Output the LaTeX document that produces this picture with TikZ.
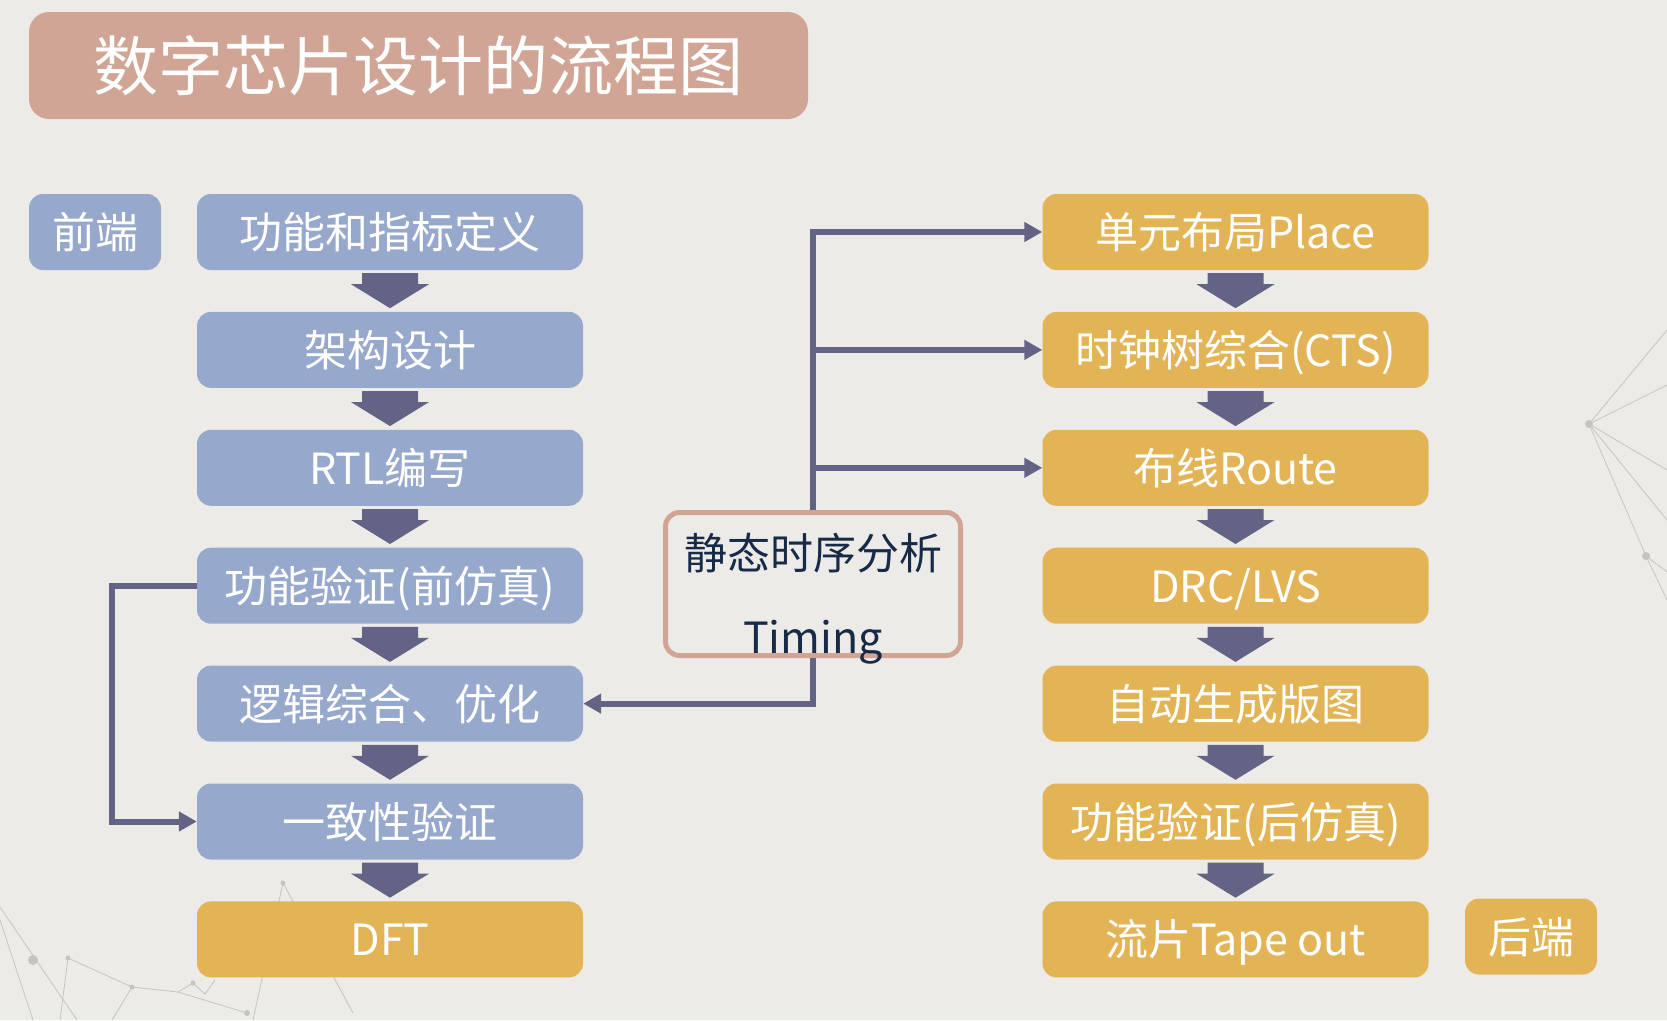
\documentclass[tikz,border=0pt]{standalone}
\usepackage{fontspec}
\setmainfont{Noto Sans CJK SC}
\usetikzlibrary{arrows.meta,positioning}

\definecolor{paper}{HTML}{EDEBE7}
\definecolor{thread}{HTML}{C6C4C0}
\definecolor{frontblue}{HTML}{97A8CD}
\definecolor{backgold}{HTML}{E3B455}
\definecolor{flowpurple}{HTML}{636385}
\definecolor{titlerose}{HTML}{D1A595}
\definecolor{navytext}{HTML}{172B49}

\begin{document}
\begin{tikzpicture}[x=1pt, y=1pt, node distance=41.5pt, inner sep=0pt, text=white]
	\tikzset{box/.style={rounded corners=14pt, minimum width=386pt, minimum height=76pt, text height=38pt, text depth=5pt, font=\fontsize{43}{50}\selectfont}}
	\tikzset{front/.style={box, fill=frontblue}, back/.style={box, fill=backgold}}
	\tikzset{flow/.style={draw=flowpurple, line width=6pt, -{Triangle[length=18pt,width=19pt]}}}
	\tikzset{pics/downarrow/.style={code={\fill[flowpurple] (-28,0) -- (28,0) -- (28,-11) -- (39,-11) -- (0,-35) -- (-39,-11) -- (-28,-11) -- cycle;}}}

	%FONDO
	\useasboundingbox (0,0) rectangle (1667,-1020);
	\fill[paper] (0,0) rectangle (1667,-1020);
	\begin{scope}[draw=thread, line width=0.8pt]
		\draw (1667,-330) -- (1589,-424) -- (1667,-385);
		\draw (1667,-470) -- (1589,-424) -- (1667,-520);
		\draw (1589,-424) -- (1646,-556) -- (1667,-600);
		\draw (1646,-556) -- (1667,-572);
		\draw (0,-907) -- (77,-1020);
		\draw (0,-920) -- (33,-1020);
		\draw (68,-958) -- (132,-987) -- (178,-992) -- (247,-1013);
		\draw (68,-958) -- (60,-1020);
		\draw (132,-987) -- (112,-1020);
		\draw (178,-992) -- (193,-983) -- (205,-994) -- (215,-980);
		\draw (253,-1020) -- (283,-883) -- (353,-1013);
		\fill[thread] (1589,-424) circle (4) (1646,-556) circle (4) (33,-960) circle (5) (68,-958) circle (2.5) (132,-987) circle (2.5) (193,-983) circle (2.5) (247,-1013) circle (3) (283,-883) circle (2.5);
	\end{scope}

	%TITULO
	\node[fill=titlerose, rounded corners=20pt, minimum width=779pt, minimum height=107pt, font=\fontsize{65}{74}\selectfont] (title) at (418.5,-65.5) {数字芯片设计的流程图};

	%FRONT END
	\node[front, minimum width=132pt] (fe) at (95,-232) {前端};
	\node[front] (f1) at (390,-232) {功能和指标定义};
	\node[front, below=of f1] (f2) {架构设计};
	\node[front, below=of f2] (f3) {RTL编写};
	\node[front, below=of f3] (f4) {功能验证(前仿真)};
	\node[front, below=of f4] (f5) {逻辑综合、优化};
	\node[front, below=of f5] (f6) {一致性验证};
	\node[back, below=of f6] (f7) {DFT};

	%BACK END
	\node[back] (b1) at (1235.5,-232) {单元布局Place};
	\node[back, below=of b1] (b2) {时钟树综合(CTS)};
	\node[back, below=of b2] (b3) {布线Route};
	\node[back, below=of b3] (b4) {DRC/LVS};
	\node[back, below=of b4] (b5) {自动生成版图};
	\node[back, below=of b5] (b6) {功能验证(后仿真)};
	\node[back, below=of b6] (b7) {流片Tape out};
	\node[back, minimum width=132pt] (be) at (1531,-936.5) {后端};

	%STA
	\node[draw=titlerose, line width=5pt, rounded corners=14pt, minimum width=295pt, minimum height=143pt] (sta) at (813,-584) {};
	\node[text=navytext, font=\fontsize{43}{50}\selectfont] (stazh) at ([yshift=31pt]sta.center) {静态时序分析};
	\node[text=navytext, font=\fontsize{43}{50}\selectfont, anchor=base] (staen) at ([yshift=-69pt]sta.center) {Timing};

	%FLECHAS
	\foreach \a in {f1,f2,f3,f4,f5,f6,b1,b2,b3,b4,b5,b6}
		\pic at ([yshift=-3pt]\a.south) {downarrow};
	\draw[flow] (sta.north) |- (b1.west);
	\draw[flow] (sta.north) |- (b2.west);
	\draw[flow] (sta.north) |- (b3.west);
	\draw[flow] (sta.south) |- (f5.east);
	\draw[flow] (f4.west) -- ++(-85,0) |- (f6.west);
\end{tikzpicture}
\end{document}
